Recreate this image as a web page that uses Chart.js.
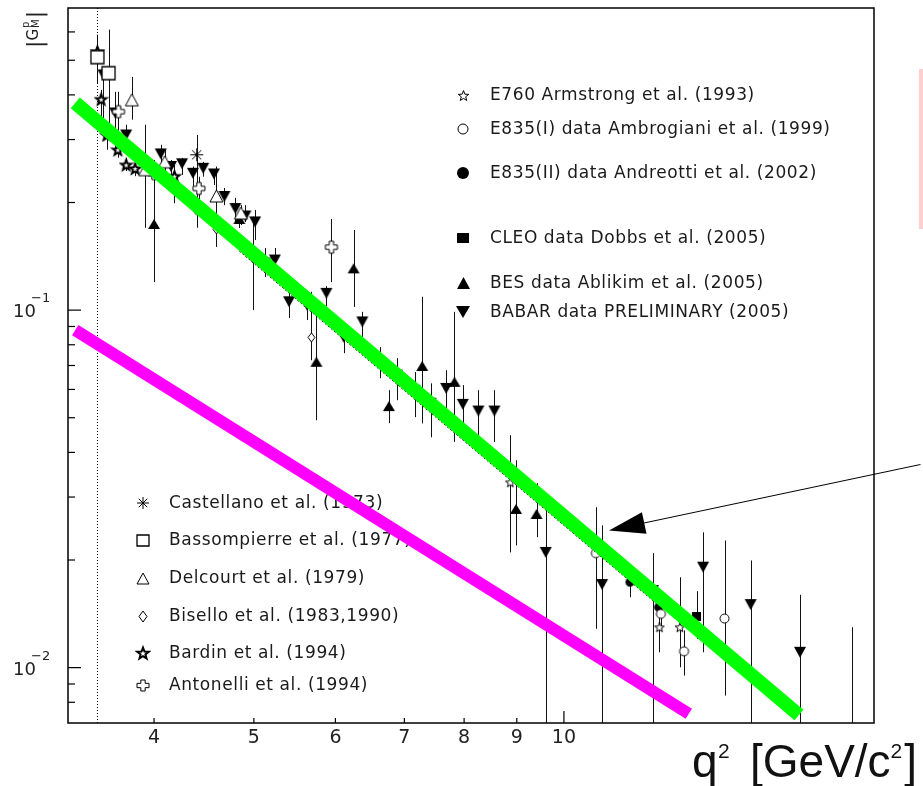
<!DOCTYPE html>
<html>
<head>
<meta charset="utf-8">
<title>|G_M^p| vs q^2</title>
<script src="https://cdn.jsdelivr.net/npm/chart.js@4.4.0/dist/chart.umd.min.js"></script>
<style>
  html, body { margin: 0; padding: 0; background: #fff; }
  canvas { display: block; }
</style>
</head>
<body>
<canvas id="ffChart" width="923" height="786"></canvas>
<script>
// ===== data: q^2 [GeV^2], |G_M^p|, error bar low / high =====
const castellanoQ2 = [4.40];
const castellanoG  = [0.272];
const castellanoLo = [0.170];
const castellanoHi = [0.309];

const bassompierreQ2 = [3.524, 3.613];
const bassompierreG  = [0.510, 0.460];
const bassompierreLo = [0.432, 0.313];
const bassompierreHi = [0.589, 0.609];

const delcourtQ2 = [3.806, 3.920, 4.097, 4.598, 4.857];
const delcourtG  = [0.3875, 0.247, 0.260, 0.2086, 0.1869];
const delcourtLo = [0.341, 0.170, 0.236, 0.1504, 0.173];
const delcourtHi = [0.449, 0.330, 0.281, 0.2522, 0.1966];

const biselloQ2 = [4.400, 4.598, 4.992, 5.686];
const biselloG  = [0.1897, 0.1683, 0.1396, 0.0839];
const biselloLo = [0.1712, 0.1504, 0.100, 0.0724];
const biselloHi = [0.2077, 0.2467, 0.1826, 0.1125];

const bardinQ2 = [3.524, 3.554, 3.599, 3.689, 3.758, 3.834, 4.187];
const bardinG  = [0.529, 0.389, 0.309, 0.281, 0.255, 0.249, 0.237];
const bardinLo = [0.432, 0.341, 0.281, 0.267, 0.245, 0.237, 0.199];
const bardinHi = [0.589, 0.413, 0.326, 0.299, 0.266, 0.262, 0.255];

const antonelliQ2 = [3.694, 4.000, 4.422, 5.946];
const antonelliG  = [0.359, 0.241, 0.219, 0.150];
const antonelliLo = [0.299, 0.217, 0.199, 0.1198];
const antonelliHi = [0.408, 0.263, 0.236, 0.1799];

const e760Q2 = [8.871, 12.38, 12.96];
const e760G  = [0.0330, 0.01297, 0.01297];
const e760Lo = [0.0210, 0.01104, 0.01002];
const e760Hi = [0.0447, 0.01475, 0.0179];

const e835aQ2 = [10.74, 12.42, 13.08, 14.32];
const e835aG  = [0.0209, 0.01414, 0.01111, 0.01372];
const e835aLo = [0.01284, 0.0127, 0.0095, 0.00835];
const e835aHi = [0.0281, 0.01541, 0.0127, 0.02268];

const e835bQ2 = [11.59, 12.36];
const e835bG  = [0.01734, 0.01475];
const e835bLo = [0.01574, 0.0143];
const e835bHi = [0.0179, 0.01541];

const cleoQ2 = [13.45];
const cleoG  = [0.0139];
const cleoLo = [0.01203];
const cleoHi = [0.01636];

const besQ2 = [4.000, 4.840, 5.750, 6.249, 6.762, 7.285, 7.829, 8.984, 9.406];
const besG  = [0.1742, 0.1799, 0.0717, 0.1309, 0.0539, 0.0698, 0.0630, 0.0278, 0.0269];
const besLo = [0.1198, 0.1697, 0.0492, 0.1021, 0.0483, 0.0482, 0.0428, 0.02197, 0.02317];
const besHi = [0.2467, 0.1881, 0.1067, 0.1675, 0.0597, 0.109, 0.0989, 0.038, 0.0328];

const babarQ2 = [3.572, 3.667, 3.758, 4.060, 4.155, 4.258, 4.363, 4.465, 4.573, 4.681,
                 4.798, 4.906, 5.014, 5.124, 5.240, 5.409, 5.631, 5.880, 6.112, 6.372,
                 6.623, 6.883, 7.161, 7.421, 7.685, 7.976, 8.260, 8.560, 9.601, 10.89,
                 12.20, 13.65, 15.18, 16.95, 19.04];
const babarG  = [0.455, 0.356, 0.309, 0.2735, 0.2522, 0.2567, 0.2414, 0.2493, 0.2404, 0.2079,
                 0.1924, 0.1834, 0.1765, 0.1354, 0.1381, 0.1055, 0.1033, 0.1114, 0.0839, 0.0927,
                 0.0715, 0.0658, 0.0597, 0.0549, 0.0604, 0.0545, 0.0522, 0.0522, 0.0210, 0.01708,
                 0.01643, 0.0191, 0.01501, 0.01104, 0.0055];
const babarLo = [0.330, 0.281, 0.281, 0.2414, 0.236, 0.2388, 0.2215, 0.2362, 0.2239, 0.1966,
                 0.1764, 0.1764, 0.1571, 0.1237, 0.127, 0.095, 0.0938, 0.1026, 0.0758, 0.0842,
                 0.0645, 0.0560, 0.0502, 0.0441, 0.0524, 0.0452, 0.0447, 0.0428, 0.004, 0.004,
                 0.004, 0.01104, 0.004, 0.004, 0.002];
const babarHi = [0.470, 0.408, 0.330, 0.290, 0.263, 0.2665, 0.2522, 0.2598, 0.2480, 0.2196,
                 0.206, 0.1966, 0.1906, 0.1492, 0.1492, 0.1152, 0.1053, 0.1167, 0.0879, 0.0989,
                 0.0788, 0.0734, 0.0671, 0.0624, 0.0679, 0.0617, 0.0597, 0.0597, 0.030, 0.025,
                 0.0209, 0.0239, 0.01994, 0.01598, 0.01297];

// straight power-law bands and the fit curve underneath the upper one
const upperBandQ2 = [3.354, 16.91];
const upperBandG  = [0.380, 0.00737];
const lowerBandQ2 = [3.354, 13.22];
const lowerBandG  = [0.0879, 0.00743];
const fitQ2 = [4.84, 12.45];
const fitG  = [0.1463, 0.01466];

// axis ticks
const xTickLabels = [4, 5, 6, 7, 8, 9, 10];
const yDecadeTicks = [0.01, 0.1];
const yDecadeExps = ['\u22122', '\u22121'];
const yMinorTicks = [0.008, 0.009, 0.02, 0.03, 0.04, 0.05, 0.06, 0.07, 0.08, 0.09,
                     0.2, 0.3, 0.4, 0.5, 0.6];
const thresholdQ2 = 3.52;   // 4 M_p^2

// ===== marker images =====
function makeMarker(kind, w, h) {
  const c = document.createElement('canvas');
  c.width = Math.ceil(w) + 4;
  c.height = Math.ceil(h) + 4;
  const g = c.getContext('2d');
  g.translate(c.width / 2, c.height / 2);
  g.strokeStyle = '#000';
  g.fillStyle = '#000';
  g.lineWidth = 1;
  const hw = w / 2, hh = h / 2;
  g.beginPath();
  switch (kind) {
    case 'star':
    case 'boldStar':
      for (let i = 0; i < 10; i++) {
        const r = i % 2 ? hw * 0.42 : hw;
        const a = -Math.PI / 2 + i * Math.PI / 5;
        g.lineTo(r * Math.cos(a), r * Math.sin(a) + hw * 0.1);
      }
      g.closePath();
      g.fillStyle = '#fff';
      g.fill();
      g.lineWidth = kind === 'boldStar' ? 2 : 1;
      g.stroke();
      break;
    case 'squareOpen':
      g.rect(-hw, -hh, w, h);
      g.fillStyle = '#fff';
      g.fill();
      g.lineWidth = 1.3;
      g.stroke();
      break;
    case 'square':
      g.rect(-hw, -hh, w, h);
      g.fill();
      break;
    case 'triOpen':
    case 'triUp':
      g.moveTo(0, -hh);
      g.lineTo(hw, hh);
      g.lineTo(-hw, hh);
      g.closePath();
      if (kind === 'triOpen') { g.fillStyle = '#fff'; g.fill(); g.stroke(); } else g.fill();
      break;
    case 'triDown':
      g.moveTo(-hw, -hh);
      g.lineTo(hw, -hh);
      g.lineTo(0, hh);
      g.closePath();
      g.fill();
      break;
    case 'diamond':
      g.moveTo(0, -hh);
      g.lineTo(hw, 0);
      g.lineTo(0, hh);
      g.lineTo(-hw, 0);
      g.closePath();
      g.fillStyle = '#fff';
      g.fill();
      g.stroke();
      break;
    case 'circleOpen':
    case 'circle':
      g.arc(0, 0, hw, 0, Math.PI * 2);
      if (kind === 'circle') g.fill(); else { g.fillStyle = '#fff'; g.fill(); g.stroke(); }
      break;
    case 'crossOpen': {
      const t = w * 0.18;
      const pts = [[-t, -hh], [t, -hh], [t, -t], [hw, -t], [hw, t], [t, t], [t, hh], [-t, hh],
                   [-t, t], [-hw, t], [-hw, -t], [-t, -t]];
      pts.forEach(p => g.lineTo(p[0], p[1]));
      g.closePath();
      g.fillStyle = '#fff';
      g.fill();
      g.stroke();
      break;
    }
    case 'asterisk':
      for (let i = 0; i < 4; i++) {
        const a = i * Math.PI / 4;
        g.moveTo(-hw * Math.cos(a), -hh * Math.sin(a));
        g.lineTo(hw * Math.cos(a), hh * Math.sin(a));
      }
      g.stroke();
      break;
  }
  return c;
}

const mk = {
  castellano: makeMarker('asterisk', 13, 13),
  bassompierre: makeMarker('squareOpen', 13, 13),
  delcourt: makeMarker('triOpen', 13, 12),
  bisello: makeMarker('diamond', 7, 9),
  bardin: makeMarker('boldStar', 11, 11),
  antonelli: makeMarker('crossOpen', 12, 12),
  e760: makeMarker('star', 10, 10),
  e835a: makeMarker('circleOpen', 9, 9),
  e835b: makeMarker('circle', 9, 9),
  cleo: makeMarker('square', 9, 9),
  bes: makeMarker('triUp', 12, 10),
  babar: makeMarker('triDown', 12, 11)
};

// legend rows: marker image, text, text baseline
const rightLegend = [
  [makeMarker('star', 11, 11), 'E760 Armstrong et al. (1993)', 100],
  [makeMarker('circleOpen', 10, 10), 'E835(I) data Ambrogiani et al. (1999)', 134],
  [makeMarker('circle', 12, 12), 'E835(II) data Andreotti et al. (2002)', 178],
  [makeMarker('square', 12, 10), 'CLEO data Dobbs et al. (2005)', 243],
  [makeMarker('triUp', 13, 12), 'BES data Ablikim et al. (2005)', 288],
  [makeMarker('triDown', 14, 12), 'BABAR data PRELIMINARY (2005)', 317]
];
const leftLegend = [
  [makeMarker('asterisk', 12, 12), 'Castellano et al. (1973)', 508],
  [makeMarker('squareOpen', 12, 11), 'Bassompierre et al. (1977)', 545],
  [makeMarker('triOpen', 12, 11), 'Delcourt et al. (1979)', 583],
  [makeMarker('diamond', 8, 11), 'Bisello et al. (1983,1990)', 621],
  [makeMarker('boldStar', 12, 12), 'Bardin et al. (1994)', 658],
  [makeMarker('crossOpen', 12, 11), 'Antonelli et al. (1994)', 690]
];

function points(q2, g) {
  return q2.map((x, i) => ({ x: x, y: g[i] }));
}

function series(label, q2, g, lo, hi, style) {
  return {
    label: label,
    data: points(q2, g),
    lo: lo,
    hi: hi,
    pointStyle: style,
    pointRadius: 5,
    showLine: false,
    clip: 0
  };
}

function band(q2, g, color, width, order) {
  return {
    type: 'line',
    data: points(q2, g),
    borderColor: color,
    borderWidth: width,
    borderCapStyle: 'butt',
    pointRadius: 0,
    showLine: true,
    order: order,
    clip: 0
  };
}

function line(c, x1, y1, x2, y2) {
  c.beginPath();
  c.moveTo(x1, y1);
  c.lineTo(x2, y2);
  c.stroke();
}

// ===== axes, ticks, error bars, legends (under the markers) =====
const frame = {
  id: 'frame',
  beforeDatasetsDraw(chart) {
    const { ctx: c, chartArea: a, scales: { x, y } } = chart;
    c.save();

    // error bars
    c.save();
    c.beginPath();
    c.rect(a.left, a.top, a.right - a.left, a.bottom - a.top);
    c.clip();
    c.strokeStyle = '#111';
    c.lineWidth = 1;
    chart.data.datasets.forEach(ds => {
      if (!ds.lo) return;
      ds.data.forEach((p, i) => {
        const px = Math.round(x.getPixelForValue(p.x)) + 0.5;
        line(c, px, y.getPixelForValue(ds.hi[i]), px, y.getPixelForValue(ds.lo[i]));
      });
    });
    c.restore();

    // threshold
    c.strokeStyle = '#000';
    c.lineWidth = 1;
    c.setLineDash([1, 2]);
    const tx = Math.round(x.getPixelForValue(thresholdQ2)) + 0.5;
    line(c, tx, a.top, tx, a.bottom);
    c.setLineDash([]);

    // frame
    c.lineWidth = 1.5;
    c.strokeRect(a.left, a.top, a.right - a.left, a.bottom - a.top);

    c.lineWidth = 1.2;
    yMinorTicks.forEach(v => {
      const py = y.getPixelForValue(v);
      line(c, a.left, py, a.left + 7, py);
    });
    yDecadeTicks.forEach(v => {
      const py = y.getPixelForValue(v);
      line(c, a.left, py, a.left + 13, py);
    });
    xTickLabels.forEach(v => {
      const px = x.getPixelForValue(v);
      line(c, px, a.bottom, px, a.bottom - (v === 10 ? 12 : 5));
    });

    // tick labels
    c.fillStyle = '#222';
    c.font = '19px "DejaVu Sans"';
    c.textAlign = 'center';
    c.textBaseline = 'alphabetic';
    xTickLabels.forEach(v => c.fillText(String(v), x.getPixelForValue(v), a.bottom + 20));

    c.textAlign = 'left';
    yDecadeTicks.forEach((v, i) => {
      const py = y.getPixelForValue(v);
      c.font = '18px "DejaVu Sans"';
      c.fillText('10', 13, py + 7);
      c.font = '13px "DejaVu Sans"';
      c.fillText(yDecadeExps[i], 31, py - 8);
    });

    // legends
    c.font = '17px "DejaVu Sans"';
    c.letterSpacing = '0.6px';
    c.fillStyle = '#1a1a1a';
    rightLegend.forEach(r => {
      c.drawImage(r[0], Math.round(463 - r[0].width / 2), Math.round(r[2] - 5 - r[0].height / 2));
      c.fillText(r[1], 490, r[2]);
    });
    leftLegend.forEach(r => {
      c.drawImage(r[0], Math.round(143 - r[0].width / 2), Math.round(r[2] - 5 - r[0].height / 2));
      c.fillText(r[1], 169, r[2]);
    });
    c.letterSpacing = '0px';
    c.restore();
  },

  // titles, arrow, side box
  afterDraw(chart) {
    const { ctx: c, scales: { x, y } } = chart;
    c.save();

    // y title |G^p_M| reading upwards
    c.fillStyle = '#222';
    c.translate(38, 48);
    c.rotate(-Math.PI / 2);
    let cx = 0;
    c.font = '22px "DejaVu Sans"';
    c.fillText('|', cx, 4);
    cx += c.measureText('|').width;
    c.font = '15px "DejaVu Sans"';
    c.fillText('G', cx, 0);
    cx += c.measureText('G').width + 1;
    c.font = '10px "DejaVu Sans"';
    c.fillText('p', cx, -9);
    c.fillText('M', cx, 1);
    cx += c.measureText('M').width + 1;
    c.font = '22px "DejaVu Sans"';
    c.fillText('|', cx, 4);
    c.setTransform(1, 0, 0, 1, 0, 0);

    // x title
    c.fillStyle = '#111';
    c.font = '46px "Liberation Sans"';
    c.fillText('q', 692, 777);
    c.font = '21px "Liberation Sans"';
    c.fillText('2', 718, 758);
    c.font = '46px "Liberation Sans"';
    c.fillText('[GeV/c', 750, 777);
    const cw = c.measureText('[GeV/c').width;
    c.font = '21px "Liberation Sans"';
    c.fillText('2', 750 + cw, 758);
    const sw = c.measureText('2').width;
    c.font = '46px "Liberation Sans"';
    c.fillText(']', 750 + cw + sw + 2, 777);

    // arrow pointing at the upper band
    const tipX = x.getPixelForValue(11.06), tipY = y.getPixelForValue(0.0242);
    const tailX = x.getPixelForValue(22.19), tailY = y.getPixelForValue(0.0370);
    const ang = Math.atan2(tailY - tipY, tailX - tipX);
    c.strokeStyle = '#000';
    c.lineWidth = 1;
    line(c, tipX + 30 * Math.cos(ang), tipY + 30 * Math.sin(ang), tailX, tailY);
    c.beginPath();
    c.moveTo(tipX, tipY);
    c.lineTo(tipX + 36 * Math.cos(ang) - 11 * Math.sin(ang), tipY + 36 * Math.sin(ang) + 11 * Math.cos(ang));
    c.lineTo(tipX + 36 * Math.cos(ang) + 11 * Math.sin(ang), tipY + 36 * Math.sin(ang) - 11 * Math.cos(ang));
    c.closePath();
    c.fillStyle = '#000';
    c.fill();

    // note box at the right edge
    c.fillStyle = '#fdcfcf';
    c.fillRect(919, 69, 4, 160);
    c.restore();
  }
};

const ctx = document.getElementById('ffChart').getContext('2d');
new Chart(ctx, {
  type: 'scatter',
  data: {
    datasets: [
      band(upperBandQ2, upperBandG, '#00ff00', 14, -3),
      band(lowerBandQ2, lowerBandG, '#ff00ff', 12, -3),
      Object.assign(band(fitQ2, fitG, '#000', 1, -2), { borderDash: [2, 2] }),
      series('Castellano et al. (1973)', castellanoQ2, castellanoG, castellanoLo, castellanoHi, mk.castellano),
      series('Bassompierre et al. (1977)', bassompierreQ2, bassompierreG, bassompierreLo, bassompierreHi, mk.bassompierre),
      series('Delcourt et al. (1979)', delcourtQ2, delcourtG, delcourtLo, delcourtHi, mk.delcourt),
      series('Bisello et al. (1983,1990)', biselloQ2, biselloG, biselloLo, biselloHi, mk.bisello),
      series('Bardin et al. (1994)', bardinQ2, bardinG, bardinLo, bardinHi, mk.bardin),
      series('Antonelli et al. (1994)', antonelliQ2, antonelliG, antonelliLo, antonelliHi, mk.antonelli),
      series('E760', e760Q2, e760G, e760Lo, e760Hi, mk.e760),
      series('E835(I)', e835aQ2, e835aG, e835aLo, e835aHi, mk.e835a),
      series('E835(II)', e835bQ2, e835bG, e835bLo, e835bHi, mk.e835b),
      series('CLEO', cleoQ2, cleoG, cleoLo, cleoHi, mk.cleo),
      series('BES', besQ2, besG, besLo, besHi, mk.bes),
      series('BABAR', babarQ2, babarG, babarLo, babarHi, mk.babar)
    ]
  },
  options: {
    responsive: false,
    animation: false,
    devicePixelRatio: 1,
    events: [],
    layout: { padding: { left: 68, top: 8, right: 49, bottom: 63 } },
    scales: {
      x: { type: 'logarithmic', min: 3.3, max: 20, display: false },
      y: { type: 'logarithmic', min: 0.007, max: 0.7, display: false }
    },
    plugins: {
      legend: { display: false },
      tooltip: { enabled: false }
    }
  },
  plugins: [frame]
});
</script>
</body>
</html>
